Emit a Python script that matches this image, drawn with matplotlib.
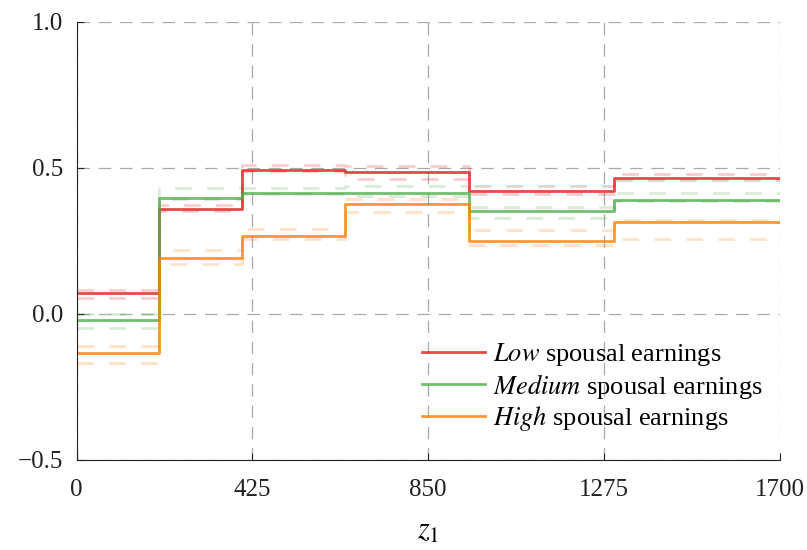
import numpy as np
import matplotlib
matplotlib.use("Agg")
import matplotlib.pyplot as plt

plt.rcParams['font.family'] = ['Liberation Serif', 'DejaVu Serif']
plt.rcParams['mathtext.fontset'] = 'stix'

# bin edges along z1
edges = [0, 200, 400, 650, 950, 1300, 1700]

# point estimates per bin
low = [0.071, 0.358, 0.493, 0.487, 0.422, 0.466]
medium = [-0.021, 0.398, 0.415, 0.415, 0.352, 0.390]
high = [-0.133, 0.191, 0.267, 0.377, 0.248, 0.315]

# confidence bands (upper / lower)
low_hi = [0.083, 0.372, 0.510, 0.505, 0.437, 0.478]
low_lo = [0.056, 0.354, 0.488, 0.463, 0.410, 0.458]
med_hi = [0.000, 0.430, 0.432, 0.438, 0.367, 0.413]
med_lo = [-0.049, 0.392, 0.410, 0.404, 0.329, 0.386]
high_hi = [-0.109, 0.220, 0.291, 0.394, 0.288, 0.321]
high_lo = [-0.167, 0.171, 0.256, 0.350, 0.237, 0.255]

series = [
    (low, low_hi, low_lo, '#e41a1c', r'$\it{Low}$ spousal earnings'),
    (medium, med_hi, med_lo, '#4daf4a', r'$\it{Medium}$ spousal earnings'),
    (high, high_hi, high_lo, '#ff7f00', r'$\it{High}$ spousal earnings'),
]

fig = plt.figure(figsize=(8.07, 5.5), dpi=100)
ax = fig.add_axes([0.095, 0.164, 0.871, 0.796])


def ext(v):
    return list(v) + [v[-1]]


for est, hi, lo, col, lab in series:
    for band in (hi, lo):
        ax.step(edges, ext(band), where='post', color=col, alpha=0.22,
                lw=2, dashes=(6, 5.5))
for est, hi, lo, col, lab in series:
    ax.step(edges, ext(est), where='post', color=col, alpha=0.8, lw=2,
            label=lab)

ax.set_xlim(0, 1700)
ax.set_ylim(-0.5, 1.0)
ax.set_xticks([0, 425, 850, 1275, 1700])
ax.set_yticks([-0.5, 0.0, 0.5, 1.0])
ax.set_yticklabels(['\u22120.5', '0.0', '0.5', '1.0'])
ax.grid(True, color='#aaaaaa', ls=(0, (10, 7)), lw=0.9)
ax.set_axisbelow(True)
for s in ['top', 'right']:
    ax.spines[s].set_visible(False)
ax.spines['left'].set_color('#222222')
ax.spines['bottom'].set_color('#222222')
ax.tick_params(direction='in', length=5, labelsize=18, colors='#222222')
ax.tick_params(axis='x', pad=14)
ax.tick_params(axis='y', pad=10)
ax.set_xlabel(r'$z_1$', fontsize=22, labelpad=11)

ax.legend(loc='center left', bbox_to_anchor=(0.491, 0.166), frameon=False,
          fontsize=19, handlelength=2.4, handletextpad=0.3,
          labelspacing=0.12, borderpad=0, borderaxespad=0)

fig.savefig('out.png', dpi=100)
